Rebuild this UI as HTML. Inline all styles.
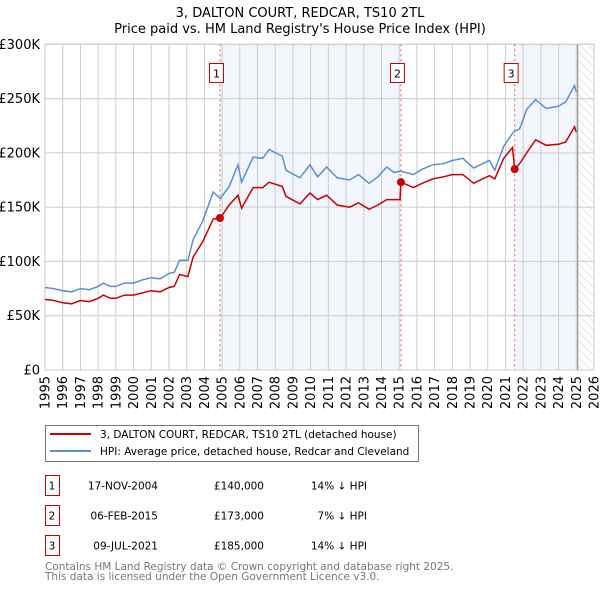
<!DOCTYPE html>
<html><head><meta charset="utf-8"><style>
body{margin:0;background:#fff;font-family:"Liberation Sans","DejaVu Sans",sans-serif;}
svg text{font-family:"DejaVu Sans","Liberation Sans",sans-serif;}
</style></head><body>
<svg id="chart" width="600" height="590" viewBox="0 0 600 590" xmlns="http://www.w3.org/2000/svg">
<defs><pattern id="hatch" width="6" height="6" patternUnits="userSpaceOnUse" patternTransform="rotate(-45)"><line x1="0" y1="0" x2="0" y2="6" stroke="#ccc" stroke-width="1"/></pattern></defs>
<text x="300" y="17" text-anchor="middle" font-size="13">3, DALTON COURT, REDCAR, TS10 2TL</text>
<text x="300" y="33" text-anchor="middle" font-size="13">Price paid vs. HM Land Registry's House Price Index (HPI)</text>
<g id="plot"></g>
<g>
<rect x="45.5" y="425.5" width="373" height="36" fill="#fff" stroke="#777"/>
<line x1="50" y1="434" x2="91" y2="434" stroke="#cc0000" stroke-width="2"/>
<text x="100" y="438" font-size="10.5">3, DALTON COURT, REDCAR, TS10 2TL (detached house)</text>
<line x1="50" y1="451" x2="91" y2="451" stroke="#5b8fd4" stroke-width="2"/>
<text x="100" y="455" font-size="10.5">HPI: Average price, detached house, Redcar and Cleveland</text>
</g>
<g id="table" font-size="10.5"></g>
<text x="45" y="570" font-size="10.5" fill="#777">Contains HM Land Registry data © Crown copyright and database right 2025.</text>
<text x="45" y="580" font-size="10.5" fill="#777">This data is licensed under the Open Government Licence v3.0.</text>
</svg>
<script>
const years=[1995,1995.5,1996,1996.5,1997,1997.5,1998,1998.3,1998.7,1999,1999.5,2000,2000.5,2001,2001.5,2002,2002.3,2002.6,2003.07,2003.36,2003.9,2004.5,2004.9,2005.4,2005.9,2006.1,2006.75,2007.3,2007.65,2008.4,2008.6,2009.4,2009.96,2010.4,2010.9,2011.5,2012.2,2012.7,2013.3,2013.8,2014.3,2014.7,2015.05,2015.1,2015.8,2016.3,2016.9,2017.5,2018.0,2018.6,2019.2,2019.7,2020.1,2020.4,2020.9,2021.4,2021.52,2021.8,2022.2,2022.7,2023.3,2024.0,2024.4,2024.9,2025.0];
const hpi=[76,75,73,72,75,74,77,80,77,77,80,80,83,85,84,89,90,101,101,120,137,164,158,169,189,173,196,195,203,197,184,177,189,178,187,177,175,180,172,178,187,182,183,183,180,185,189,190,193,195,186,190,193,184,206,218,220,222,240,249,241,243,247,262,256];
const red=[65,64,62,61,64,63,66,69,66,66,69,69,71,73,72,76,77,88,86,104,118,139,140,152,161,149,168,168,173,169,160,153,163,157,161,152,150,154,148,152,157,157,157,173,168,172,176,178,180,180,172,176,179,176,195,205,185,190,200,212,207,208,210,224,219];
const saleYears=[2004.88,2015.1,2021.52];
const salePrices=[140,173,185];
const saleDates=["17-NOV-2004","06-FEB-2015","09-JUL-2021"];
const salePriceLabels=["£140,000","£173,000","£185,000"];
const saleDiffs=["14% ↓ HPI","7% ↓ HPI","14% ↓ HPI"];
const yTicks=[0,50,100,150,200,250,300];
const yTickLabels=["£0","£50K","£100K","£150K","£200K","£250K","£300K"];
const xTicks=[];for(let y=1995;y<=2026;y++)xTicks.push(y);
const dataEnd=2025.08;

const X0=45,X1=594,Y0=370,Y1=44.3;
const xs=y=>X0+(y-1995)/(2026-1995)*(X1-X0);
const ys=v=>Y0-v/300*(Y0-Y1);
const NS="http://www.w3.org/2000/svg";
const plot=document.getElementById('plot');
function mk(tag,attrs,parent){const e=document.createElementNS(NS,tag);for(const k in attrs)e.setAttribute(k,attrs[k]);(parent||plot).appendChild(e);return e;}

let r;
r=mk('rect',{x:xs(saleYears[0]),y:Y1,width:xs(saleYears[1])-xs(saleYears[0]),height:Y0-Y1,fill:'#eef3fc',opacity:0.7});


r=mk('rect',{x:xs(saleYears[2]),y:Y1,width:xs(dataEnd)-xs(saleYears[2]),height:Y0-Y1,fill:'#eef3fc',opacity:0.7});


r=mk('rect',{x:xs(dataEnd),y:Y1,width:X1-xs(dataEnd),height:Y0-Y1,fill:'url(#hatch)'});



xTicks.forEach((t,i)=>{
 const l=mk('line',{x1:xs(t),x2:xs(t),y1:Y1,y2:Y0,stroke:'#ccc','stroke-width':1});
 
 
 const tx=mk('text',{x:0,y:0,'font-size':13,'text-anchor':'end',transform:`translate(${xs(t)+4.5},${Y0+6}) rotate(-90)`});
 tx.textContent=t;
 
 
});
yTicks.forEach((t,i)=>{
 const l=mk('line',{x1:X0,x2:X1,y1:ys(t),y2:ys(t),stroke:'#ccc','stroke-width':1});
 
 
 const tx=mk('text',{x:X0-5,y:ys(t)+4.5,'font-size':13,'text-anchor':'end'});
 tx.textContent=yTickLabels[i];
 
 
});
r=mk('rect',{x:X0,y:Y1,width:X1-X0,height:Y0-Y1,fill:'none',stroke:'#ccc'});


r=mk('line',{x1:xs(dataEnd),x2:xs(dataEnd),y1:Y1,y2:Y0,stroke:'#888','stroke-width':1});



saleYears.forEach((s,i)=>{
 const l=mk('line',{x1:xs(s),x2:xs(s),y1:Y1,y2:Y0,stroke:'#e06060','stroke-width':1,'stroke-dasharray':'2,3'});
 
 
 const b=mk('rect',{x:xs(s)-10.5,y:63.5,width:14,height:19,fill:'#fff',stroke:'#cc0000'});
 
 
 const t=mk('text',{x:xs(s)-3.5,y:77.5,'font-size':11,'text-anchor':'middle'});
 t.textContent=i+1;
 
 
});

const path=arr=>arr.map((v,i)=>(i?'L':'M')+xs(years[i]).toFixed(1)+','+ys(v).toFixed(1)).join('');
r=mk('path',{d:path(hpi),fill:'none',stroke:'#5b8fd4','stroke-width':1.5});


r=mk('path',{d:path(red),fill:'none',stroke:'#cc0000','stroke-width':1.5});


saleYears.forEach((s,i)=>{
 const c=mk('circle',{cx:xs(s),cy:ys(salePrices[i]),r:4,fill:'#cc0000'});
 
 
});

const tb=document.getElementById('table');
saleDates.forEach((d,i)=>{
 const y=483+i*30;
 const b=mk('rect',{x:45.5,y:y-7.5,width:14,height:20,fill:'#fff',stroke:'#cc0000'},tb);
 
 
 const cells=[[52,'middle',String(i+1)],[158,'end',d],[264,'end',salePriceLabels[i]],[367,'end',saleDiffs[i]]];
 const names=['table-index','sale-date','sale-price','hpi-diff'];
 cells.forEach((c,j)=>{
  const t=mk('text',{x:c[0],y:y+6.5,'text-anchor':c[1]},tb);
  t.textContent=c[2];
  
  
 });
});
</script>
</body></html>
